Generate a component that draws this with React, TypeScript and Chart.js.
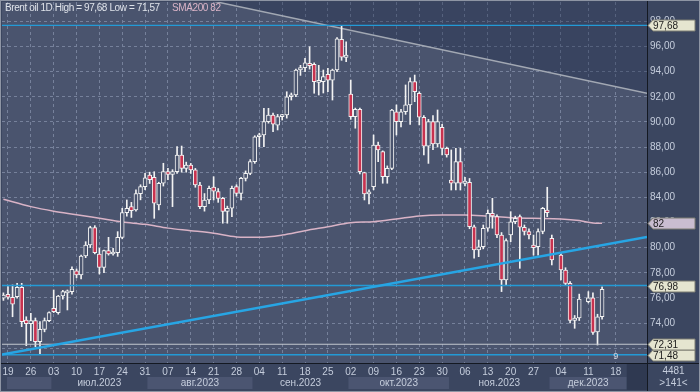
import React, { useEffect, useRef } from "react";
import { Chart, registerables } from "chart.js";

Chart.register(...registerables);

// ---------------- DATA ----------------
const dates: string[] = [
  "2023-06-16",
  "2023-06-19", "2023-06-20", "2023-06-21", "2023-06-22", "2023-06-23",
  "2023-06-26", "2023-06-27", "2023-06-28", "2023-06-29", "2023-06-30",
  "2023-07-03", "2023-07-04", "2023-07-05", "2023-07-06", "2023-07-07",
  "2023-07-10", "2023-07-11", "2023-07-12", "2023-07-13", "2023-07-14",
  "2023-07-17", "2023-07-18", "2023-07-19", "2023-07-20", "2023-07-21",
  "2023-07-24", "2023-07-25", "2023-07-26", "2023-07-27", "2023-07-28",
  "2023-07-31", "2023-08-01", "2023-08-02", "2023-08-03", "2023-08-04",
  "2023-08-07", "2023-08-08", "2023-08-09", "2023-08-10", "2023-08-11",
  "2023-08-14", "2023-08-15", "2023-08-16", "2023-08-17", "2023-08-18",
  "2023-08-21", "2023-08-22", "2023-08-23", "2023-08-24", "2023-08-25",
  "2023-08-28", "2023-08-29", "2023-08-30", "2023-08-31", "2023-09-01",
  "2023-09-04", "2023-09-05", "2023-09-06", "2023-09-07", "2023-09-08",
  "2023-09-11", "2023-09-12", "2023-09-13", "2023-09-14", "2023-09-15",
  "2023-09-18", "2023-09-19", "2023-09-20", "2023-09-21", "2023-09-22",
  "2023-09-25", "2023-09-26", "2023-09-27", "2023-09-28", "2023-09-29",
  "2023-10-02", "2023-10-03", "2023-10-04", "2023-10-05", "2023-10-06",
  "2023-10-09", "2023-10-10", "2023-10-11", "2023-10-12", "2023-10-13",
  "2023-10-16", "2023-10-17", "2023-10-18", "2023-10-19", "2023-10-20",
  "2023-10-23", "2023-10-24", "2023-10-25", "2023-10-26", "2023-10-27",
  "2023-10-30", "2023-10-31", "2023-11-01", "2023-11-02", "2023-11-03",
  "2023-11-06", "2023-11-07", "2023-11-08", "2023-11-09", "2023-11-10",
  "2023-11-13", "2023-11-14", "2023-11-15", "2023-11-16", "2023-11-17",
  "2023-11-20", "2023-11-21", "2023-11-22", "2023-11-23", "2023-11-24",
  "2023-11-27", "2023-11-28", "2023-11-29", "2023-11-30", "2023-12-01",
  "",
  "2023-12-04", "2023-12-05", "2023-12-06", "2023-12-07", "2023-12-08",
  "",
  "2023-12-11", "2023-12-12", "2023-12-13", "2023-12-14",
];

const opens: (number | null)[] = [
  75.97,
  76.29, 76.05, 76.1, 76.84, 74.24,
  73.95, 74.19, 72.52, 73.5, 74.19,
  75.17, 74.83, 76.15, 76.4, 76.5,
  78.16, 77.82, 79.33, 80.21, 81.59,
  79.49, 78.43, 79.76, 79.49, 79.6,
  80.82, 82.78, 83.26, 82.99, 84.3,
  84.85, 85.78, 85.6, 83.39, 85.12,
  86.04, 85.83, 86.04, 87.37, 86.31,
  86.57, 86.18, 84.98, 83.26, 83.79,
  84.82, 84.46, 83.92, 82.87, 83.13,
  84.85, 84.32, 85.51, 85.91, 86.84,
  88.82, 88.96, 90.02, 90.55, 89.75,
  90.42, 90.55, 92.0, 92.14, 94.13,
  94.32, 94.66, 94.58, 93.15, 93.2,
  93.79, 93.33, 94.13, 96.57, 95.14,
  92.22, 90.42, 91.0, 85.96, 84.27,
  84.85, 88.16, 87.63, 85.64, 86.31,
  90.81, 90.02, 90.81, 91.35, 93.2,
  92.28, 90.37, 88.08, 90.02, 88.24,
  89.57, 87.9, 85.38, 85.12, 86.84,
  85.1, 85.2, 81.66, 79.81, 80.07,
  81.54, 82.73, 82.46, 81.0, 77.42,
  81.0, 82.06, 82.46, 81.62, 81.28,
  80.2, 80.07, 81.28, 82.99, 80.74,
  null,
  79.41, 78.22, 77.16, 74.2, 74.4,
  null,
  75.7, 76.0, 73.3, 74.5,
];

const highs: (number | null)[] = [
  76.4,
  76.9, 77.03, 77.16, 77.16, 74.5,
  74.77, 74.4, 74.11, 74.4, 74.9,
  76.63, 76.2, 76.6, 76.63, 78.48,
  78.3, 79.41, 80.47, 81.7, 81.75,
  79.95, 79.8, 80.82, 79.95, 81.27,
  83.13, 83.79, 83.6, 84.6, 85.0,
  85.91, 86.0, 86.04, 85.2, 86.71,
  86.3, 86.2, 88.03, 88.08, 86.8,
  86.7, 86.3, 85.2, 84.3, 84.9,
  85.64, 84.7, 84.0, 83.3, 84.9,
  85.0, 85.6, 86.1, 87.0, 88.9,
  89.1, 91.08, 91.08, 90.7, 90.6,
  90.6, 92.4, 92.3, 94.2, 94.5,
  95.06, 95.98, 94.7, 94.5, 94.13,
  94.27, 94.2, 96.7, 97.68, 96.38,
  93.33, 91.1, 91.1, 86.0, 84.6,
  88.96, 88.4, 87.7, 86.5, 91.0,
  91.35, 91.0, 92.94, 93.5, 93.73,
  92.4, 90.5, 90.2, 90.5, 90.95,
  89.8, 88.0, 87.77, 87.9, 87.9,
  85.6, 85.5, 81.8, 80.6, 81.8,
  83.0, 83.92, 82.6, 81.2, 80.7,
  82.86, 82.5, 82.6, 81.8, 81.5,
  81.0, 81.5, 83.2, 84.8, 81.0,
  null,
  79.6, 78.4, 77.3, 74.6, 76.3,
  null,
  76.5, 76.4, 74.7, 76.87,
];

const lows: (number | null)[] = [
  75.8,
  75.9, 74.5, 75.97, 73.71, 72.2,
  72.6, 72.12, 71.57, 73.3, 74.1,
  74.83, 74.7, 75.9, 75.04, 76.3,
  77.6, 77.5, 79.2, 80.0, 79.5,
  77.9, 78.0, 79.4, 79.4, 79.3,
  80.7, 82.5, 82.4, 82.9, 83.8,
  84.6, 85.1, 82.33, 83.0, 84.9,
  85.4, 83.26, 85.9, 86.0, 86.0,
  85.9, 84.8, 83.1, 82.9, 83.5,
  83.79, 83.6, 81.94, 81.94, 82.46,
  84.1, 83.79, 85.3, 85.8, 86.7,
  88.03, 88.03, 89.9, 89.22, 89.36,
  90.15, 90.3, 91.74, 92.0, 93.7,
  94.0, 94.2, 92.28, 92.14, 92.3,
  92.4, 91.74, 94.0, 94.9, 94.8,
  90.2, 89.5, 85.86, 83.79, 83.47,
  84.6, 86.84, 85.12, 85.12, 86.2,
  88.96, 89.6, 90.6, 89.8, 91.61,
  89.76, 87.37, 86.7, 87.8, 88.0,
  87.37, 87.2, 84.58, 84.58, 84.58,
  84.9, 81.5, 79.15, 79.28, 79.9,
  81.3, 81.54, 80.8, 76.5, 77.0,
  80.47, 81.9, 78.35, 81.0, 80.7,
  79.4, 79.4, 81.1, 82.46, 78.62,
  null,
  77.42, 77.0, 74.0, 73.58, 74.2,
  null,
  75.6, 73.1, 72.25, 74.3,
];

const closes: (number | null)[] = [
  76.23,
  76.05, 75.51, 76.84, 74.11, 73.95,
  74.2, 72.52, 73.5, 74.19, 74.83,
  74.9, 76.15, 76.5, 76.5, 78.27,
  77.82, 79.33, 80.21, 81.59, 79.6,
  78.43, 79.76, 79.49, 79.6, 80.82,
  82.78, 83.13, 82.94, 84.3, 84.85,
  85.55, 85.4, 83.53, 85.12, 86.04,
  85.83, 86.04, 87.37, 86.31, 86.57,
  86.18, 84.98, 83.26, 83.79, 84.72,
  84.5, 83.92, 82.87, 83.13, 84.72,
  84.32, 85.51, 85.91, 86.84, 88.82,
  88.96, 90.02, 90.55, 89.83, 90.42,
  90.55, 92.0, 92.14, 94.13, 94.32,
  94.71, 94.47, 93.2, 93.3, 93.6,
  93.33, 94.13, 96.6, 95.15, 95.32,
  90.42, 91.0, 86.04, 84.27, 84.37,
  88.16, 87.77, 85.64, 86.31, 90.95,
  90.02, 90.81, 91.35, 93.2, 92.4,
  90.37, 88.08, 90.02, 88.24, 90.02,
  87.9, 87.37, 85.12, 86.84, 85.12,
  85.3, 81.66, 79.81, 80.07, 81.54,
  82.73, 82.52, 81.0, 77.42, 80.55,
  82.06, 82.33, 81.62, 81.28, 81.0,
  80.0, 81.28, 83.13, 82.78, 79.02,
  null,
  78.22, 77.16, 74.2, 74.4, 75.9,
  null,
  76.0, 73.26, 74.5, 76.68,
];

// SMA200 read at weekly points
const smaDates: string[] = [
  "2023-06-16", "2023-06-26", "2023-07-03", "2023-07-10", "2023-07-17", "2023-07-24",
  "2023-07-31", "2023-08-07", "2023-08-14", "2023-08-21", "2023-08-28", "2023-09-04",
  "2023-09-11", "2023-09-18", "2023-09-25", "2023-10-02", "2023-10-09", "2023-10-16",
  "2023-10-23", "2023-10-30", "2023-11-06", "2023-11-13", "2023-11-20", "2023-11-27",
  "2023-12-04", "2023-12-08", "2023-12-12", "2023-12-14",
];
const smaValues: number[] = [
  83.84, 83.26, 82.9, 82.62, 82.33, 82.04,
  81.85, 81.55, 81.35, 81.14, 80.85, 80.82,
  81.0, 81.35, 81.66, 81.98, 82.06, 82.28,
  82.52, 82.59, 82.59, 82.5, 82.38, 82.33,
  82.28, 82.15, 81.96, 81.94,
];

// price levels (horizontal lines)
const blueLevels: number[] = [97.68, 76.98, 71.48];
const grayLevels: number[] = [72.31];
// trend lines: values at left and right edge of the view
const supportLine: number[] = [71.49, 80.84];
const resistanceLine: number[] = [103.18, 92.27];

const yTicks: number[] = [72, 74, 76, 78, 80, 82, 84, 86, 88, 90, 92, 94, 96, 98];
const monthNames: string[] = ["янв.", "фев.", "мар.", "апр.", "мая", "июн.", "июл.", "авг.", "сен.", "окт.", "ноя.", "дек."];
const titleText = "Brent oil 1D";
const smaName = "SMA200";
const barsCountText = "4481";
const zoomText = ">141<";
const countdownText = "9";

// ---------------- STYLE ----------------
const FONT = '"Liberation Sans", Arial, sans-serif';
const AXIS_BG = "#3b4660";
const PLOT_BG = "#4a546e";
const BAND_LIGHT = "#4b5571";
const FUTURE_BG = "#2f3951";
const GRID = "#76819b";
const TEXT = "#c5cddc";
const RED = "#c8324f";
const WHITE = "#f2f2f2";
const SMA_COLOR = "#d9b3c6";
const BLUE = "#27a5e4";
const X_MIN = -0.31;
const X_MAX = 140.83;
const Y_MIN = 70.82;
const Y_MAX = 99.54;

const fmt = (v: number) => v.toFixed(2).replace(".", ",");
const dow = (d: string) => new Date(d + "T12:00:00Z").getUTCDay();

export default function App() {
  const ref = useRef<HTMLCanvasElement | null>(null);

  useEffect(() => {
    document.body.style.margin = "0";
    const canvas = ref.current;
    if (!canvas) return;

    const lastIdx = dates.length - 1;
    const candles: any[] = [];
    dates.forEach((d, i) => {
      if (d && opens[i] != null) {
        candles.push({ i, o: opens[i], h: highs[i], l: lows[i], c: closes[i] });
      }
    });
    const bodyData = candles.map((k) => ({
      x: k.i,
      y: [Math.min(k.o, k.c), Math.max(k.o, k.c)],
      bull: k.c >= k.o,
    }));
    const wickData = candles.map((k) => ({ x: k.i, y: [k.l, k.h] }));
    const smaData = smaDates.map((d, j) => ({ x: dates.indexOf(d), y: smaValues[j] }));

    const hi = Math.max(...(highs.filter((v) => v != null) as number[]));
    const lo = Math.min(...(lows.filter((v) => v != null) as number[]));
    const smaLast = smaValues[smaValues.length - 1];

    // week ticks (Mondays)
    const weekTicks: { value: number; label: string }[] = [];
    dates.forEach((d, i) => {
      if (d && dow(d) === 1) weekTicks.push({ value: i, label: d.slice(8) });
    });
    const lastDate = dates[lastIdx];
    const ld = new Date(lastDate + "T12:00:00Z");
    const add = (8 - ld.getUTCDay()) % 7 || 7;
    const nm = new Date(ld.getTime() + add * 86400000);
    weekTicks.push({ value: lastIdx + 3, label: String(nm.getUTCDate()).padStart(2, "0") });
    const tickLabel = new Map<number, string>();
    weekTicks.forEach((t) => tickLabel.set(t.value, t.label));

    // month starts
    const monthStarts: { idx: number; m: number; y: string }[] = [];
    dates.forEach((d, i) => {
      if (!d) return;
      const m = +d.slice(5, 7) - 1;
      if (!monthStarts.length || monthStarts[monthStarts.length - 1].m !== m)
        monthStarts.push({ idx: i, m, y: d.slice(0, 4) });
    });
    const futureStart = lastIdx + 5.4;

    const decorPlugin = {
      id: "decor",
      beforeDraw(chart: any) {
        const { ctx, chartArea: a, width, height } = chart;
        const xs = chart.scales.x;
        ctx.save();
        ctx.fillStyle = AXIS_BG;
        ctx.fillRect(0, 0, width, height);
        ctx.fillStyle = PLOT_BG;
        ctx.fillRect(a.left, a.top, a.right - a.left, a.bottom - a.top);
        // month bands
        const bandTop = a.bottom + 14;
        const bandH = 12;
        monthStarts.forEach((ms, k) => {
          const x0 = k === 0 ? a.left + 5 : xs.getPixelForValue(ms.idx - 0.5);
          const x1 = k < monthStarts.length - 1 ? xs.getPixelForValue(monthStarts[k + 1].idx - 0.5) : xs.getPixelForValue(futureStart);
          if (ms.m % 2 === 1) {
            ctx.fillStyle = BAND_LIGHT;
            ctx.fillRect(x0, bandTop, x1 - x0, bandH);
          }
          if (x1 - x0 > 60) {
            ctx.fillStyle = TEXT;
            ctx.font = `10px ${FONT}`;
            ctx.textAlign = "center";
            ctx.textBaseline = "middle";
            ctx.fillText(monthNames[ms.m] + ms.y, (x0 + x1) / 2, bandTop + 6);
          }
        });
        const fx = xs.getPixelForValue(futureStart);
        ctx.fillStyle = FUTURE_BG;
        ctx.fillRect(fx, a.bottom + 1, a.right - fx, height - a.bottom - 3);
        ctx.restore();
      },
      afterDraw(chart: any) {
        const { ctx, chartArea: a, width, height } = chart;
        const ys = chart.scales.y;
        ctx.save();
        // frame lines
        ctx.strokeStyle = "#141922";
        ctx.lineWidth = 1;
        ctx.beginPath();
        ctx.moveTo(a.right + 0.5, 0);
        ctx.lineTo(a.right + 0.5, height);
        ctx.moveTo(0, a.bottom + 0.5);
        ctx.lineTo(width, a.bottom + 0.5);
        ctx.stroke();
        ctx.strokeStyle = "#8e95a4";
        ctx.strokeRect(0.5, 0.5, width - 1, height - 1);

        // corner box
        ctx.fillStyle = AXIS_BG;
        ctx.fillRect(a.right + 1, a.bottom + 1, width - a.right - 2, height - a.bottom - 2);
        ctx.fillStyle = TEXT;
        ctx.font = `10px ${FONT}`;
        ctx.textAlign = "center";
        ctx.textBaseline = "middle";
        const cx = (a.right + width) / 2;
        ctx.fillText(barsCountText, cx, a.bottom + 8);
        ctx.fillText(zoomText, cx, a.bottom + 20);

        // legend
        ctx.textAlign = "left";
        ctx.textBaseline = "middle";
        try { (ctx as any).letterSpacing = "-0.4px"; } catch (e) {}
        ctx.fillStyle = "#dfe3ea";
        ctx.fillText(`${titleText} High = ${fmt(hi)} Low = ${fmt(lo)}`, 5, 8);
        ctx.fillStyle = SMA_COLOR;
        ctx.fillText(`${smaName} ${Math.round(smaLast)}`, 172, 8);
        try { (ctx as any).letterSpacing = "0px"; } catch (e) {}

        // countdown
        ctx.fillStyle = "#d8dbe2";
        ctx.font = `9px ${FONT}`;
        ctx.textAlign = "center";
        ctx.fillText(countdownText, chart.scales.x.getPixelForValue(lastIdx + 3), a.bottom - 6);

        // tags
        const tags: { v: number; text: string; fill: string }[] = [];
        blueLevels.forEach((v) => tags.push({ v, text: fmt(v), fill: "#e5e5d0" }));
        grayLevels.forEach((v) => tags.push({ v, text: fmt(v), fill: "#e5e5d0" }));
        tags.push({ v: smaLast, text: String(Math.round(smaLast)), fill: "#c9bdd0" });
        tags.forEach((t) => {
          const y = Math.round(ys.getPixelForValue(t.v)) + 0.5;
          const x0 = a.right + 1;
          ctx.beginPath();
          ctx.moveTo(x0, y);
          ctx.lineTo(x0 + 5, y - 5.5);
          ctx.lineTo(width - 5, y - 5.5);
          ctx.lineTo(width - 5, y + 5.5);
          ctx.lineTo(x0 + 5, y + 5.5);
          ctx.closePath();
          ctx.fillStyle = t.fill;
          ctx.fill();
          ctx.strokeStyle = "#7d7d72";
          ctx.lineWidth = 1;
          ctx.stroke();
          ctx.fillStyle = "#1c1c1c";
          ctx.font = `10px ${FONT}`;
          ctx.textAlign = "left";
          ctx.textBaseline = "middle";
          ctx.fillText(t.text, x0 + 5, y + 0.5);
        });
        ctx.restore();
      },
    };

    const lineBase = { type: "line", pointRadius: 0, pointHoverRadius: 0, fill: false, tension: 0 };
    const datasets: any[] = [
      {
        ...lineBase,
        data: [{ x: X_MIN, y: supportLine[0] }, { x: X_MAX, y: supportLine[1] }],
        borderColor: BLUE,
        borderWidth: 2.5,
        order: 0,
      },
      ...blueLevels.map((v) => ({
        ...lineBase,
        data: [{ x: X_MIN, y: v }, { x: X_MAX, y: v }],
        borderColor: "#239ad6",
        borderWidth: v === blueLevels[0] ? 1.2 : 1.6,
        order: 1,
      })),
      ...grayLevels.map((v) => ({
        ...lineBase,
        data: [{ x: X_MIN, y: v }, { x: X_MAX, y: v }],
        borderColor: "#c3c7cf",
        borderWidth: 1.2,
        order: 1,
      })),
      {
        type: "bar",
        data: bodyData,
        barThickness: 4,
        borderWidth: 1,
        borderColor: WHITE,
        borderSkipped: false,
        grouped: false,
        minBarLength: 2,
        backgroundColor: (c: any) => (c.raw && c.raw.bull ? PLOT_BG : RED),
        order: 2,
      },
      {
        type: "bar",
        data: wickData,
        barThickness: 1,
        borderWidth: 0,
        grouped: false,
        backgroundColor: WHITE,
        order: 3,
      },
      {
        ...lineBase,
        data: smaData,
        borderColor: SMA_COLOR,
        borderWidth: 1.5,
        cubicInterpolationMode: "monotone",
        order: 4,
      },
      {
        ...lineBase,
        data: [{ x: X_MIN, y: resistanceLine[0] }, { x: X_MAX, y: resistanceLine[1] }],
        borderColor: "#a2a8b3",
        borderWidth: 1.5,
        fill: "end",
        backgroundColor: "rgba(26,38,70,0.34)",
        order: 10,
      },
    ];

    const chart = new Chart(canvas, {
      type: "bar",
      data: { datasets },
      options: {
        responsive: false,
        animation: false,
        devicePixelRatio: 1,
        events: [],
        layout: { padding: { left: 2, top: 2, right: 0, bottom: 0 } },
        plugins: { legend: { display: false }, tooltip: { enabled: false } },
        scales: {
          x: {
            type: "linear",
            min: X_MIN,
            max: X_MAX,
            offset: false,
            bounds: "data",
            grid: { color: GRID, lineWidth: 1, drawTicks: false, offset: false },
            border: { display: false, dash: [3, 3] },
            ticks: {
              autoSkip: false,
              maxRotation: 0,
              minRotation: 0,
              padding: 3,
              color: TEXT,
              font: { family: FONT, size: 10 },
              callback: (v: any) => tickLabel.get(Number(v)) ?? "",
            },
            afterBuildTicks: (s: any) => {
              s.ticks = weekTicks.map((t) => ({ value: t.value }));
            },
            afterFit: (s: any) => {
              s.height = 29;
              s.paddingLeft = 0;
              s.paddingRight = 0;
              s.paddingTop = 0;
              s.paddingBottom = 0;
            },
          },
          y: {
            type: "linear",
            position: "right",
            min: Y_MIN,
            max: Y_MAX,
            bounds: "data",
            grid: { color: GRID, lineWidth: 1, drawTicks: false },
            border: { display: false, dash: [3, 3] },
            ticks: {
              autoSkip: false,
              padding: 3,
              color: TEXT,
              font: { family: FONT, size: 10 },
              callback: (v: any) => fmt(Number(v)),
            },
            afterBuildTicks: (s: any) => {
              s.ticks = yTicks.map((v) => ({ value: v }));
            },
            afterFit: (s: any) => {
              s.width = 53;
              s.paddingLeft = 0;
              s.paddingRight = 0;
              s.paddingTop = 0;
              s.paddingBottom = 0;
            },
          },
        },
      } as any,
      plugins: [decorPlugin],
    } as any);

    return () => chart.destroy();
  }, []);

  return <canvas ref={ref} width={700} height={392} style={{ display: "block", width: 700, height: 392 }} />;
}
